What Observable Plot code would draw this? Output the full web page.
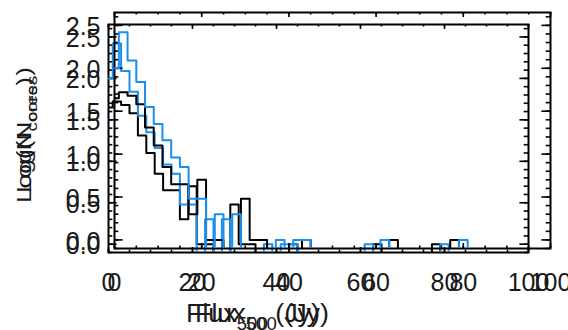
<!DOCTYPE html>
<html><head><meta charset="utf-8">
<script src="https://cdn.jsdelivr.net/npm/d3@7"></script>
<script src="https://cdn.jsdelivr.net/npm/@observablehq/plot@0.6"></script>
<style>
html,body{margin:0;padding:0;background:#fff;overflow:hidden}
#chart{position:relative;width:568px;height:330px}
#chart svg{position:absolute;left:0;top:0}
</style></head><body><div id="chart"></div>
<script>
// Histogram bin centres (Flux500, Jy), bin width 2
const binCenters = [0,2,4,6,8,10,12,14,16,18,20,22,24,26,28,30,32,34,36,38,40,42,44,46,48,50,
  52,54,56,58,60,62,64,66,68,70,72,74,76,78,80,82,84,86,88,90,92,94,96,98,100];
// log10(N_cores) per bin; null = empty bin
const blackLogN = [1.65,1.72,1.68,1.58,1.31,1.1,0.85,0.65,0.65,0.3,0.7,0,0,null,null,0.48,0,0,null,null,
  null,null,0,null,null,null,null,null,null,null,null,null,0,null,null,null,null,null,null,0,
  null,null,null,null,null,null,null,null,null,null,null];
const blueLogN = [2.0,2.42,2.09,1.84,1.55,1.35,1.16,0.96,0.85,0.48,0.48,null,0.3,null,0.3,null,null,null,null,0,
  null,0,0,null,null,null,null,null,null,null,null,0,null,null,null,null,null,null,null,null,
  0,null,null,null,null,null,null,null,null,null,null];
const xTickValues = [0,20,40,60,80,100];
const xTickLabels = ["0","20","40","60","80","100"];
const yTickValues = [0,0.5,1,1.5,2,2.5];
const yTickLabels = ["0.0","0.5","1.0","1.5","2.0","2.5"];
const xMinor = d3.range(0, 101, 5);
const yMinor = d3.range(-0.1, 2.65, 0.1).map(v => +v.toFixed(1));
const EMPTY = -1; // below the axis: empty bins drop out of the frame

const rows = binCenters.map((x, i) => ({x, black: blackLogN[i] ?? EMPTY, blue: blueLogN[i] ?? EMPTY}));

const BLUE = "#1a8fef";
const FONT = "Liberation Sans, Arial, sans-serif";
const INK = "#1a1a1a";
const W = 568, H = 330;

// The reference is two overplotted copies of the same plot at slightly different positions
const copies = [
  {left:108, top:24, right:40, bottom:78, xLabelDy:30, yLabelDx:-8, xTitleX:253, yTitleY:140},
  {left:114, top:12, right:18, bottom:82, xLabelDy:34, yLabelDx:-14, xTitleX:262, yTitleY:130}
];

function makePlot(c) {
  const iw = W - c.left - c.right, ih = H - c.top - c.bottom;
  const tk = {stroke: "black", strokeWidth: 1.6};
  const txt = {fontFamily: FONT, fontWeight: 400, fontSize: 25, fill: INK};
  const svg = Plot.plot({
    width: W, height: H,
    marginLeft: c.left, marginRight: c.right, marginTop: c.top, marginBottom: c.bottom,
    x: {domain: [0, 100], axis: null},
    y: {domain: [-0.1, 2.65], axis: null},
    style: {background: "transparent", overflow: "visible"},
    marks: [
      Plot.tickX(xMinor, {x: d => d, insetTop: ih - 2.5, ...tk}),
      Plot.tickX(xMinor, {x: d => d, insetBottom: ih - 2.5, ...tk}),
      Plot.tickX(xTickValues, {x: d => d, insetTop: ih - 5, ...tk}),
      Plot.tickX(xTickValues, {x: d => d, insetBottom: ih - 5, ...tk}),
      Plot.tickY(yMinor, {y: d => d, insetRight: iw - 4.3, ...tk}),
      Plot.tickY(yMinor, {y: d => d, insetLeft: iw - 4.3, ...tk}),
      Plot.tickY(yTickValues, {y: d => d, insetRight: iw - 8.6, ...tk}),
      Plot.tickY(yTickValues, {y: d => d, insetLeft: iw - 8.6, ...tk}),
      Plot.frame({stroke: "black", strokeWidth: 2}),
      Plot.line(rows, {x: "x", y: "black", curve: "step", stroke: "black", strokeWidth: 2, clip: true}),
      Plot.line(rows, {x: "x", y: "blue", curve: "step", stroke: BLUE, strokeWidth: 2, clip: true}),
      Plot.text(xTickValues, {x: d => d, text: (d, i) => xTickLabels[i], frameAnchor: "bottom", dy: c.xLabelDy, lineAnchor: "middle", ...txt}),
      Plot.text(yTickValues, {y: d => d, text: (d, i) => yTickLabels[i], frameAnchor: "left", dx: c.yLabelDx, dy: 2, textAnchor: "end", lineAnchor: "middle", ...txt})
    ]
  });
  const s = d3.select(svg);
  const xt = s.append("text").attr("x", c.xTitleX).attr("y", 322)
    .attr("textLength", 134).attr("lengthAdjust", "spacingAndGlyphs")
    .attr("font-family", FONT).attr("font-size", 26).attr("fill", INK);
  xt.append("tspan").text("Flux");
  xt.append("tspan").attr("font-size", 18).attr("dy", 8).text("500");
  xt.append("tspan").attr("dy", -8).text(" (Jy)");
  const yt = s.append("text").attr("transform", `translate(31,${c.yTitleY}) rotate(-90)`)
    .attr("text-anchor", "middle")
    .attr("textLength", 126).attr("lengthAdjust", "spacingAndGlyphs")
    .attr("font-family", FONT).attr("font-size", 21).attr("fill", INK);
  yt.append("tspan").text("Log(N");
  yt.append("tspan").attr("font-size", 15).attr("dy", 6).text("cores");
  yt.append("tspan").attr("dy", -6).text(")");
  return svg;
}

const root = document.getElementById("chart");
copies.forEach(c => root.appendChild(makePlot(c)));
</script></body></html>
